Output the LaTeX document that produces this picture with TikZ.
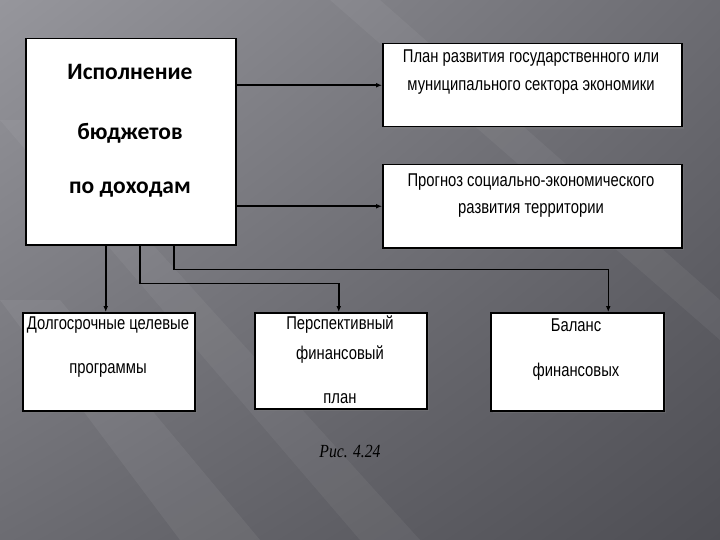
\documentclass[tikz,border=0pt]{standalone}
\usepackage{fontspec}
\setmainfont{Liberation Sans}
\newfontfamily\narrowfont[FakeStretch=0.8]{Liberation Sans}
\newfontfamily\boldfont{Carlito}
\newfontfamily\capfont[FakeStretch=0.85]{Liberation Serif}
\usetikzlibrary{arrows.meta,shadows,shadings}

\definecolor{bgLight}{RGB}{150,150,156}
\definecolor{bgMid}{RGB}{108,108,114}
\definecolor{bgDark}{RGB}{78,78,84}

\tikzset{
  box/.style={draw=black, line width=1.5pt, fill=white, anchor=north west,
    inner sep=0pt, drop shadow={opacity=0.35, shadow xshift=2pt, shadow yshift=-2pt}},
  boxtext/.style={font=\narrowfont\fontsize{18.5}{20}\selectfont, inner sep=0pt},
  maintext/.style={font=\boldfont\bfseries\fontsize{23.5}{26}\selectfont, inner sep=0pt},
  link/.style={line width=1.5pt, -{Latex[length=6pt,width=5pt]}}
}

\begin{document}
\begin{tikzpicture}[x=1pt,y=-1pt]
    % фон
    \shade[upper left=bgLight, upper right=bgMid, lower left=bgMid, lower right=bgDark]
      (0,0) rectangle (720,540);
    \fill[white, opacity=0.06] (0,300) -- (60,300) -- (260,540) -- (180,540) -- cycle;
    \fill[white, opacity=0.05] (0,120) -- (40,120) -- (420,540) -- (360,540) -- cycle;
    \fill[white, opacity=0.05] (330,0) -- (380,0) -- (720,300) -- (720,340) -- cycle;
    \useasboundingbox (0,0) rectangle (720,540);

    % главный блок
    \node[box, minimum width=210, minimum height=206] (main) at (25,38) {};
    \node[maintext] (ml1) at (130,72) {Исполнение};
    \node[maintext] (ml2) at (130,133) {бюджетов};
    \node[maintext] (ml3) at (130,190) {по доходам};

    % правые блоки
    \node[box, minimum width=299, minimum height=83] (plan) at (382,43) {};
    \node[boxtext] (pl1) at (531,58) {План развития государственного или};
    \node[boxtext] (pl2) at (531,87) {муниципального сектора экономики};

    \node[box, minimum width=299, minimum height=83] (prog) at (382,164) {};
    \node[boxtext] (pr1) at (531,182) {Прогноз социально-экономического};
    \node[boxtext] (pr2) at (531,210) {развития территории};

    % нижние блоки
    \node[box, minimum width=172, minimum height=98] (dolg) at (22,312) {};
    \node[boxtext] (dl1) at (108,325) {Долгосрочные целевые};
    \node[boxtext] (dl2) at (108,370) {программы};

    \node[box, minimum width=172, minimum height=96] (persp) at (254,312) {};
    \node[boxtext] (ps1) at (340,325) {Перспективный};
    \node[boxtext] (ps2) at (340,355) {финансовый};
    \node[boxtext] (ps3) at (340,399) {план};

    \node[box, minimum width=173, minimum height=98] (bal) at (490,312) {};
    \node[boxtext] (bl1) at (576,325) {Баланс};
    \node[boxtext] (bl2) at (576,372) {финансовых};

    % стрелки
    \draw[link] (main.east |- plan.west) -- (plan.west);
    \draw[link] (main.east |- prog.west) -- (prog.west);
    \draw[link] ([xshift=-25pt]main.south) -- ([xshift=-3pt]dolg.north);
    \draw[link] ([xshift=9pt]main.south) -- ++(0,38) -| ([xshift=-2pt]persp.north);
    \draw[link] ([xshift=43pt]main.south) -- ++(0,24) -| ([xshift=31pt]bal.north);

    % подпись
    \node[font=\capfont\itshape\fontsize{18.5}{20}\selectfont, inner sep=0pt] (cap) at (350,452) {Рис. 4.24};
\end{tikzpicture}
\end{document}
